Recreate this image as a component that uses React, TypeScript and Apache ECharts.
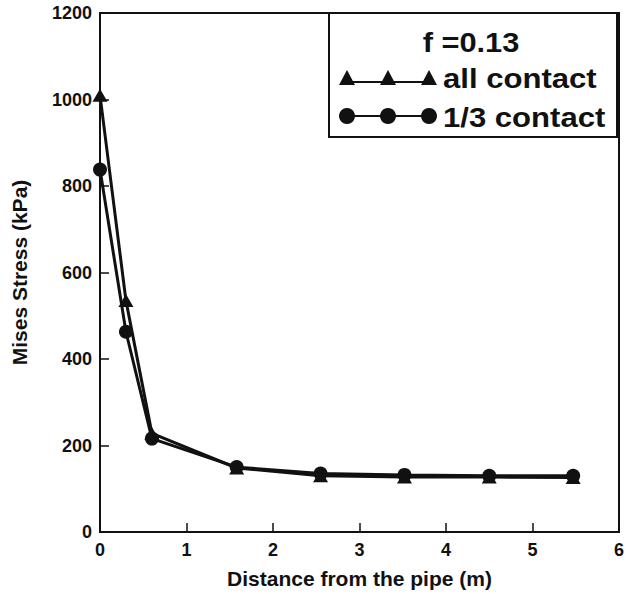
import React, { useEffect, useRef } from "react";
import * as echarts from "echarts";

const xAll = [0, 0.3, 0.6, 1.58, 2.55, 3.52, 4.5, 5.47];
const yAll = [1010, 535, 228, 148, 130, 127, 127, 126];
const xThird = [0, 0.3, 0.6, 1.58, 2.55, 3.52, 4.5, 5.47];
const yThird = [838, 463, 216, 150, 135, 132, 130, 130];
const seriesNames = ["all contact", "1/3 contact"];
const legendTitle = "f =0.13";
const xTicks = [0, 1, 2, 3, 4, 5, 6];
const yTicks = [0, 200, 400, 600, 800, 1000, 1200];

const FONT = "'Liberation Sans', Arial, Helvetica, sans-serif";
const INK = "#111111";

function legendGraphics() {
  const els: any[] = [];
  els.push({
    type: "rect",
    shape: { x: 329, y: 13, width: 288, height: 124 },
    style: { fill: "none", stroke: INK, lineWidth: 2 },
    z: 10,
  });
  els.push({
    type: "text",
    x: 471,
    y: 42,
    scaleX: 1.1,
    style: {
      text: legendTitle,
      fontFamily: FONT,
      fontWeight: "bold",
      fontSize: 28,
      fill: INK,
      align: "center",
      verticalAlign: "middle",
    },
    z: 10,
  });
  const cx = [347, 388, 429];
  // triangle row
  els.push({
    type: "line",
    shape: { x1: cx[0], y1: 82, x2: cx[2], y2: 82 },
    style: { stroke: INK, lineWidth: 2 },
    z: 10,
  });
  cx.forEach((c) =>
    els.push({
      type: "polygon",
      shape: { points: [[c - 8, 85], [c, 70], [c + 8, 85]] },
      style: { fill: INK },
      z: 11,
    })
  );
  // circle row
  els.push({
    type: "line",
    shape: { x1: cx[0], y1: 116, x2: cx[2], y2: 116 },
    style: { stroke: INK, lineWidth: 2 },
    z: 10,
  });
  cx.forEach((c) =>
    els.push({
      type: "circle",
      shape: { cx: c, cy: 116, r: 8 },
      style: { fill: INK },
      z: 11,
    })
  );
  [seriesNames[0], seriesNames[1]].forEach((t, i) =>
    els.push({
      type: "text",
      x: 443,
      y: i === 0 ? 78 : 117,
      scaleX: 1.11,
      style: {
        text: t,
        fontFamily: FONT,
        fontWeight: "bold",
        fontSize: 28,
        fill: INK,
        align: "left",
        verticalAlign: "middle",
      },
      z: 10,
    })
  );
  return els;
}

export default function App() {
  const ref = useRef<HTMLDivElement>(null);
  useEffect(() => {
    if (!ref.current) return;
    const chart = echarts.init(ref.current, null, { renderer: "svg" });
    chart.setOption({
      animation: false,
      backgroundColor: "#ffffff",
      grid: {
        left: 100,
        right: 22,
        top: 13,
        bottom: 60,
        show: true,
        borderColor: INK,
        borderWidth: 2,
        containLabel: false,
      },
      xAxis: {
        type: "value",
        min: xTicks[0],
        max: xTicks[xTicks.length - 1],
        interval: 1,
        name: "Distance from the pipe (m)",
        nameLocation: "middle",
        nameGap: 36,
        nameTextStyle: { fontFamily: FONT, fontWeight: "bold", fontSize: 21, color: INK },
        axisLine: { show: true, lineStyle: { color: INK, width: 2 } },
        axisTick: { show: true, inside: true, length: 9, lineStyle: { color: INK, width: 1.5 } },
        axisLabel: { margin: 9, fontFamily: FONT, fontWeight: "bold", fontSize: 18, color: INK },
        splitLine: { show: false },
      },
      yAxis: {
        type: "value",
        min: yTicks[0],
        max: yTicks[yTicks.length - 1],
        interval: 200,
        name: "Mises Stress (kPa)",
        nameLocation: "middle",
        nameGap: 70,
        nameTextStyle: { fontFamily: FONT, fontWeight: "bold", fontSize: 21, color: INK },
        axisLine: { show: true, lineStyle: { color: INK, width: 2 } },
        axisTick: { show: true, inside: true, length: 9, lineStyle: { color: INK, width: 1.5 } },
        axisLabel: {
          margin: 8,
          fontFamily: FONT,
          fontWeight: "bold",
          fontSize: 18,
          color: INK,
          formatter: (v: number) => String(v),
        },
        splitLine: { show: false },
      },
      graphic: legendGraphics(),
      series: [
        {
          name: seriesNames[0],
          type: "line",
          data: xAll.map((x, i) => [x, yAll[i]]),
          symbol: "triangle",
          symbolSize: [15, 13],
          showSymbol: true,
          lineStyle: { color: INK, width: 3 },
          itemStyle: { color: INK },
          z: 3,
        },
        {
          name: seriesNames[1],
          type: "line",
          data: xThird.map((x, i) => [x, yThird[i]]),
          symbol: "circle",
          symbolSize: 14,
          showSymbol: true,
          lineStyle: { color: INK, width: 3 },
          itemStyle: { color: INK },
          z: 2,
        },
      ],
    });
    return () => chart.dispose();
  }, []);
  return <div ref={ref} style={{ width: 641, height: 594, position: "absolute", left: 0, top: 0 }} />;
}
